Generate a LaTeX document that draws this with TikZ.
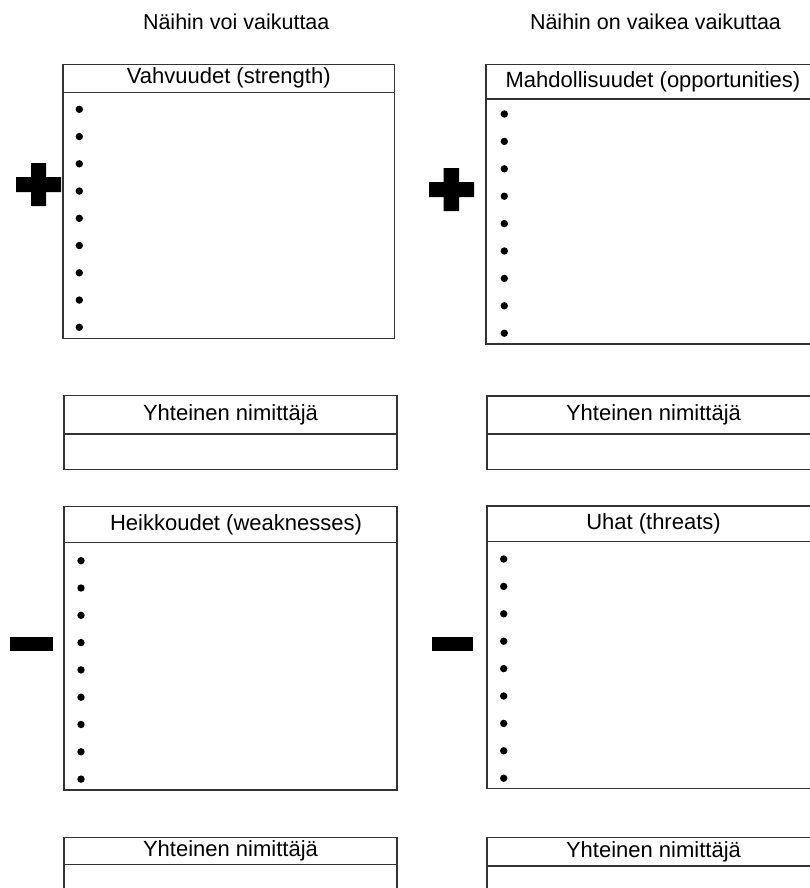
\documentclass[tikz,border=0pt]{standalone}
\usepackage{fontspec}
\setmainfont{Liberation Sans}
\usetikzlibrary{positioning}

\begin{document}
\begin{tikzpicture}[
        x=1pt, y=-1pt,
        every node/.style={inner sep=0pt, outer sep=0pt},
        title/.style={anchor=base west, font=\fontsize{21.5}{26}\selectfont},
        head/.style={draw=black!80, line width=1.2pt, anchor=north west,
                     font=\fontsize{22}{26}\selectfont},
        body/.style={draw=black!80, line width=1.2pt, anchor=north west},
        bullet/.style={circle, fill=black, minimum size=7.4pt}
    ]

    \useasboundingbox (0,0) rectangle (810,888);
    \clip (0,0) rectangle (810,888);

    % column titles
    \node[title] (voi) at (143,30) {Näihin voi vaikuttaa};
    \node[title] (vaikea) at (530,30) {Näihin on vaikea vaikuttaa};

    % strengths
    \node[head, minimum width=331.5, minimum height=28] (vahv) at (63,64.3) {Vahvuudet (strength)};
    \node[body, minimum width=331.5, minimum height=246.4] (vahvb) at (vahv.south west) {};
    \foreach \i in {1,...,9}
        \node[bullet] (vahv\i) at (79.3, {109.3+(\i-1)*27.25}) {};

    % opportunities
    \node[head, minimum width=334, minimum height=34.7] (mahd) at (486,64.3) {Mahdollisuudet (opportunities)};
    \node[body, minimum width=334, minimum height=245] (mahdb) at (mahd.south west) {};
    \foreach \i in {1,...,9}
        \node[bullet] (mahd\i) at (504.3, {114+(\i-1)*27.4}) {};

    % common denominators, upper row
    \node[head, minimum width=333, minimum height=38.7] (yht1) at (64,395.3) {Yhteinen nimittäjä};
    \node[body, minimum width=333, minimum height=35.3] (yht1b) at (yht1.south west) {};
    \node[head, minimum width=333, minimum height=38] (yht2) at (487,396) {Yhteinen nimittäjä};
    \node[body, minimum width=333, minimum height=35.3] (yht2b) at (yht2.south west) {};

    % weaknesses
    \node[head, minimum width=333, minimum height=36] (heik) at (64,506.7) {\hspace*{11pt}Heikkoudet (weaknesses)};
    \node[body, minimum width=333, minimum height=247.3] (heikb) at (heik.south west) {};
    \foreach \i in {1,...,9}
        \node[bullet] (heik\i) at (81, {560.7+(\i-1)*27.3}) {};

    % threats
    \node[head, minimum width=333, minimum height=35.7] (uhat) at (487,506) {Uhat (threats)};
    \node[body, minimum width=333, minimum height=247] (uhatb) at (uhat.south west) {};
    \foreach \i in {1,...,9}
        \node[bullet] (uhat\i) at (503.7, {559+(\i-1)*27.4}) {};

    % common denominators, lower row
    \node[head, minimum width=333, minimum height=27] (yht3) at (64,837.7) {Yhteinen nimittäjä};
    \node[body, minimum width=333, minimum height=47] (yht3b) at (yht3.south west) {};
    \node[head, minimum width=333, minimum height=28.3] (yht4) at (487,837.7) {Yhteinen nimittäjä};
    \node[body, minimum width=333, minimum height=46] (yht4b) at (yht4.south west) {};

    % plus and minus signs
    \fill (16,177) rectangle (61,192) (31,163) rectangle (46,206);
    \fill (429,182) rectangle (474,197) (443.5,168) rectangle (459,211);
    \fill (10,637) rectangle (53,651);
    \fill (432,637) rectangle (473,651);

\end{tikzpicture}
\end{document}
